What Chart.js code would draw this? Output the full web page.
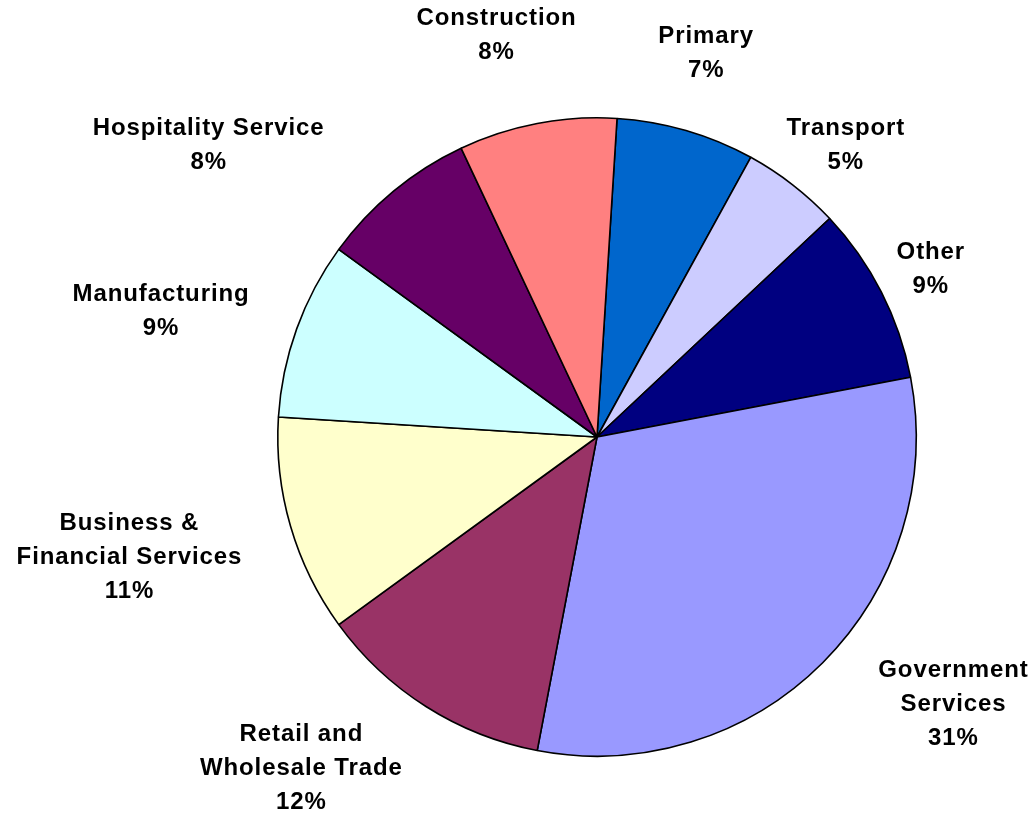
<!DOCTYPE html>
<html>
<head>
<meta charset="utf-8">
<script src="https://cdn.jsdelivr.net/npm/chart.js@4"></script>
<style>
  html, body { margin: 0; padding: 0; background: #fff; }
  canvas { display: block; }
</style>
</head>
<body>
<canvas id="pie" width="1035" height="815"></canvas>
<script>
// employment share by sector, clockwise from the top
const sectors = ['Primary', 'Transport', 'Other', 'Government Services', 'Retail and Wholesale Trade',
  'Business & Financial Services', 'Manufacturing', 'Hospitality Service', 'Construction'];
const shares = [7, 5, 9, 31, 12, 11, 9, 8, 8];
// how the label text is broken into lines
const labelLines = [
  ['Primary'], ['Transport'], ['Other'], ['Government', 'Services'], ['Retail and', 'Wholesale Trade'],
  ['Business &', 'Financial Services'], ['Manufacturing'], ['Hospitality Service'], ['Construction']
];
const sliceColors = ['#0066CC', '#CCCCFF', '#000080', '#9999FF', '#993366',
  '#FFFFCC', '#CCFFFF', '#660066', '#FF8080'];

// label placement: extra distance past the rim and a small turn (deg) off the slice middle
const labelPad  = [80, 64, 54, 126, 125, 164, 135, 167, 95];
const labelTurn = [-0.4, 2.6, 0.3, -8.1, 9.4, 1.8, -3.7, -13.5, -3.3];

const outsideLabels = {
  id: 'outsideLabels',
  afterDraw(chart){
    const ctx = chart.ctx;
    const arcs = chart.getDatasetMeta(0).data;
    ctx.save();
    ctx.font = 'bold 24px "Liberation Sans", Arial, sans-serif';
    ctx.letterSpacing = '0.9px';
    ctx.fillStyle = '#000';
    ctx.textAlign = 'center';
    ctx.textBaseline = 'middle';
    const lineH = 34;
    arcs.forEach((arc, i) => {
      const p = arc.getProps(['x', 'y', 'startAngle', 'endAngle', 'outerRadius'], true);
      const a = (p.startAngle + p.endAngle) / 2 + labelTurn[i] * Math.PI / 180;
      const d = p.outerRadius + labelPad[i];
      const cx = p.x + Math.cos(a) * d;
      const cy = p.y + Math.sin(a) * d;
      const lines = labelLines[i].concat([shares[i] + '%']);
      const top = cy - (lines.length - 1) * lineH / 2;
      lines.forEach((t, k) => ctx.fillText(t, cx + 0.45, top + k * lineH));
    });
    ctx.restore();
  }
};

new Chart(document.getElementById('pie'), {
  type: 'pie',
  data: {
    labels: sectors,
    datasets: [{
      data: shares,
      backgroundColor: sliceColors,
      borderColor: '#000',
      borderWidth: 1.6,
      hoverOffset: 0
    }]
  },
  options: {
    responsive: false,
    animation: false,
    rotation: 3.6,
    layout: { padding: { left: 277, right: 118, top: 117, bottom: 58 } },
    plugins: {
      legend: { display: false },
      tooltip: { enabled: false }
    }
  },
  plugins: [outsideLabels]
});
</script>
</body>
</html>
